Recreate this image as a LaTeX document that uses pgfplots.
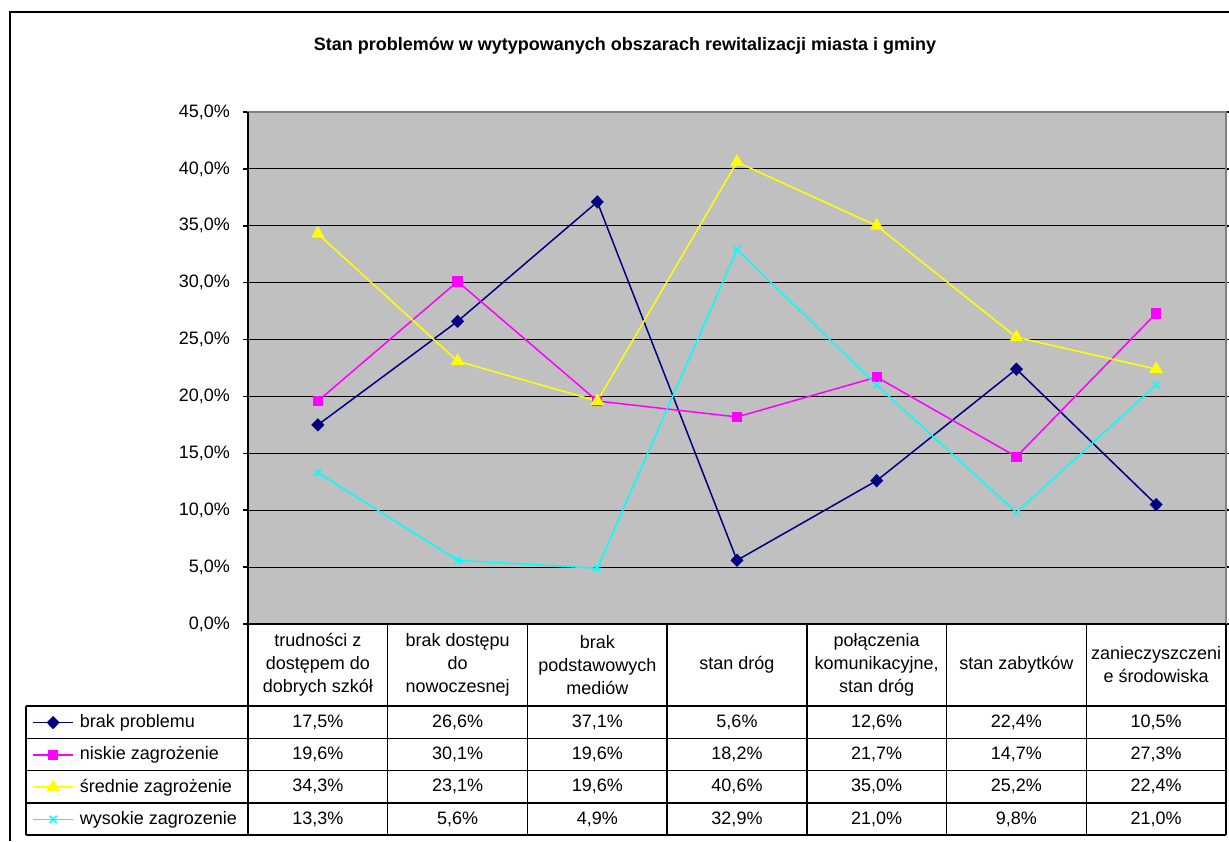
\documentclass[border=0pt]{standalone}
\usepackage{pgfplots}
\pgfplotsset{compat=1.18}
\usepackage{pgfplotstable}
\usepackage{fontspec}
\setmainfont{Liberation Sans}

\definecolor{navy}{RGB}{0,0,128}
\definecolor{pink}{RGB}{255,0,255}
\definecolor{yel}{RGB}{255,255,0}
\definecolor{aqua}{RGB}{0,255,255}
\definecolor{silver}{RGB}{192,192,192}
\definecolor{frame}{RGB}{128,128,128}

% one row per category, one column per series
\pgfplotstableread{
x brak niskie srednie wysokie
1 17.5 19.6 34.3 13.3
2 26.6 30.1 23.1 5.6
3 37.1 19.6 19.6 4.9
4 5.6 18.2 40.6 32.9
5 12.6 21.7 35.0 21.0
6 22.4 14.7 25.2 9.8
7 10.5 27.3 22.4 21.0
}\stan

\pgfkeys{/pgf/number format/assume math mode=true}

\begin{document}
\begin{tikzpicture}[font=\fontsize{9}{11.5}\selectfont]
\path[use as bounding box] (0pt,0pt) rectangle (614.5pt,420.5pt);

\begin{axis}[
  at={(124pt,108.5pt)}, anchor=south west,
  scale only axis, width=489pt, height=256pt,
  xmin=0.5, xmax=7.5, ymin=0, ymax=45,
  xtick=\empty,
  ytick={0,5,...,45},
  yticklabel={\pgfmathprintnumber[fixed,fixed zerofill,precision=1,use comma]{\tick}\%},
  yticklabel style={font=\fontsize{9}{10}\selectfont, xshift=-3pt},
  tick align=outside, major tick length=2.5pt,
  ytick style={black, line width=0.75pt},
  ymajorgrids, grid style={black, line width=0.6pt},
  axis background/.style={fill=silver},
  axis line style={draw=frame, line width=0.75pt},
  clip=false,
  legend cell align=left,
  legend image code/.code={\draw[mark repeat=2,mark phase=2,#1]
    plot coordinates {(0pt,0pt) (10pt,0pt) (20pt,0pt)};},
  legend style={at={(-0.2209,-0.1602)}, anchor=north west, draw=none, fill=none,
    inner sep=0pt, row sep=0pt, font=\fontsize{9}{10}\selectfont,
    nodes={inner xsep=3pt, inner ysep=0pt, minimum height=16.125pt}},
]
\addplot[navy, line width=0.75pt, mark=diamond*, mark size=2.8pt,
  mark options={fill=navy, xscale=1.3}] table[x=x,y=brak]{\stan};
\addlegendentry{brak problemu}
\addplot[pink, line width=0.75pt, mark=square*, mark size=2.2pt,
  mark options={fill=pink}] table[x=x,y=niskie]{\stan};
\addlegendentry{niskie zagrożenie}
\addplot[yel, line width=0.75pt, mark=triangle*, mark size=3.2pt,
  mark options={fill=yel}] table[x=x,y=srednie]{\stan};
\addlegendentry{średnie zagrożenie}
\addplot[aqua, line width=0.75pt, mark=x, mark size=2.5pt] table[x=x,y=wysokie]{\stan};
\addlegendentry{wysokie zagrozenie}
\end{axis}

% everything below in pixel coordinates measured from the top-left corner
\begin{scope}[x=0.5pt, y=-0.5pt, shift={(0pt,420.5pt)}]
\draw[line width=0.75pt] (10,841) -- (10,12) -- (1229,12);
\node[font=\bfseries\fontsize{9}{10}\selectfont] at (625,46)
  {Stan problemów w wytypowanych obszarach rewitalizacji miasta i gminy};

% left and bottom axis lines, data table grid
\draw[line width=0.75pt] (248,112) -- (248,835);
\draw[line width=0.75pt] (248,624) -- (1226,624);
\foreach \k in {1,...,7}
  \draw[line width=0.75pt] ({248+139.71*\k},624) -- ({248+139.71*\k},835);
\foreach \r in {0,...,4}
  \draw[line width=0.75pt] (26,{706+32.25*\r}) -- (1226,{706+32.25*\r});
\draw[line width=0.75pt] (26,706) -- (26,835);

% category headers
\foreach \c/\lab in {1/{trudności z\\dostępem do\\dobrych szkół},
    2/{brak dostępu\\do\\nowoczesnej},
    3/{brak\\podstawowych\\mediów},
    4/{stan dróg},
    5/{połączenia\\komunikacyjne,\\stan dróg},
    6/{stan zabytków},
    7/{zanieczyszczeni\\e środowiska}}
  \node[align=center] at ({248+139.71*(\c-0.5)},665) {\lab};

% table values
\foreach \c in {0,...,6} {
  \foreach \col [count=\r] in {brak,niskie,srednie,wysokie} {
    \pgfplotstablegetelem{\c}{\col}\of\stan
    \node at ({248+139.71*(\c+0.5)},{706+32.25*(\r-0.5)})
      {\pgfmathprintnumber[fixed,fixed zerofill,precision=1,use comma]{\pgfplotsretval}\%};
  }
}
\end{scope}
\end{tikzpicture}
\end{document}
